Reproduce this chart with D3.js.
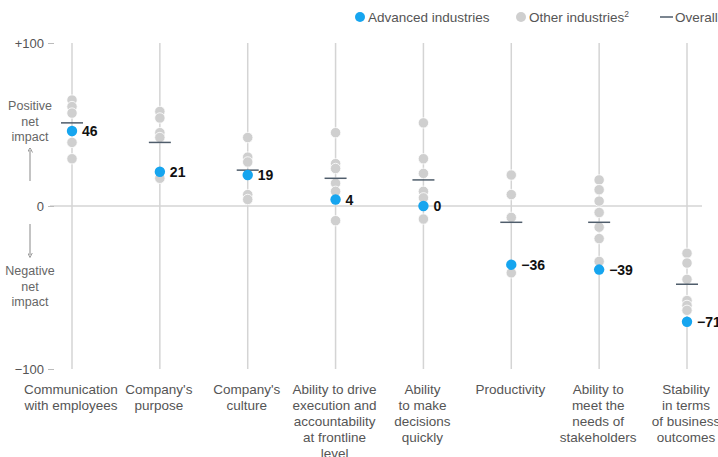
<!DOCTYPE html>
<html>
<head>
<meta charset="utf-8">
<script src="https://cdn.jsdelivr.net/npm/d3@7"></script>
<style>
  html, body { margin: 0; padding: 0; background: #fff; }
  svg { display: block; font-family: "Liberation Sans", Arial, sans-serif; }
</style>
</head>
<body>
<svg id="chart" width="718" height="457"></svg>
<script>
// Categories (multi-line labels)
const categories = [
  ["Communication", "with employees"],
  ["Company's", "purpose"],
  ["Company's", "culture"],
  ["Ability to drive", "execution and", "accountability", "at frontline", "level"],
  ["Ability", "to make", "decisions", "quickly"],
  ["Productivity"],
  ["Ability to", "meet the", "needs of", "stakeholders"],
  ["Stability", "in terms", "of business", "outcomes"]
];

// Net impact, advanced industries
const advanced = [46, 21, 19, 4, 0, -36, -39, -71];

// Overall net impact across all industries
const overall = [51, 39, 22, 17, 16, -10, -10, -48];

// Net impact for each of the other industries
const others = [
  [65, 61, 57, 39, 29],
  [58, 54, 45, 42, 17],
  [42, 30, 27, 7, 4],
  [45, 26, 23, 14, 9, -9],
  [51, 29, 20, 9, 5, -8],
  [19, 7, -7, -41],
  [16, 10, 3, -4, -13, -20, -34],
  [-29, -35, -45, -58, -61, -64]
];

const yTicks = [100, 0, -100];
const yTickLabels = ["+100", "0", "\u2212100"];

const BLUE = "#16a5ef";
const GRAY = "#cfcfcf";
const LINE = "#d4d4d4";
const OVERALL = "#4f5d6b";
const TEXT = "#555";
const FONT = "13.5px";

const svg = d3.select("#chart");

const idx = categories.map((d, i) => i);
const x = d3.scalePoint().domain(idx).range([72, 687]);
const y = d3.scaleLinear().domain([-100, 100]).range([369, 43]);

// Vertical guide per category
svg.append("g").selectAll("line").data(idx).join("line")
  .attr("x1", d => x(d)).attr("x2", d => x(d))
  .attr("y1", y(100)).attr("y2", y(-100))
  .attr("stroke", LINE).attr("stroke-width", 1.5);

// Zero baseline
svg.append("line")
  .attr("x1", 50).attr("x2", 702)
  .attr("y1", y(0)).attr("y2", y(0))
  .attr("stroke", LINE).attr("stroke-width", 1.5);

// Y axis ticks
const yAxis = d3.axisLeft(y).tickValues(yTicks)
  .tickFormat((d, i) => yTickLabels[i]).tickSize(6).tickPadding(4);
const ya = svg.append("g").attr("transform", "translate(54,0)").call(yAxis);
ya.select(".domain").remove();
ya.selectAll(".tick line").attr("stroke", "#bbb");
ya.selectAll(".tick text").attr("fill", TEXT)
  .style("font-family", "'Liberation Sans', Arial, sans-serif").style("font-size", "13px");

// Axis direction notes
const note = svg.append("g").attr("fill", "#666").style("font-size", "12.5px")
  .attr("text-anchor", "middle");
["Positive", "net", "impact"].forEach((t, i) =>
  note.append("text").attr("x", 30).attr("y", 110 + i * 15.5).text(t));
["Negative", "net", "impact"].forEach((t, i) =>
  note.append("text").attr("x", 30).attr("y", 275 + i * 15.5).text(t));

const defs = svg.append("defs");
defs.append("marker").attr("id", "ah").attr("viewBox", "0 0 6 6")
  .attr("refX", 3).attr("refY", 3).attr("markerWidth", 5).attr("markerHeight", 5)
  .attr("orient", "auto")
  .append("path").attr("d", "M0,0 L6,3 L0,6").attr("fill", "none").attr("stroke", "#888");
svg.append("line").attr("x1", 30).attr("x2", 30).attr("y1", 181).attr("y2", 150)
  .attr("stroke", "#888").attr("marker-end", "url(#ah)");
svg.append("line").attr("x1", 30).attr("x2", 30).attr("y1", 224).attr("y2", 255)
  .attr("stroke", "#888").attr("marker-end", "url(#ah)");

// Other industries dots
const otherPts = others.flatMap((vals, i) => vals.map(v => ({ i, v })));
svg.append("g").selectAll("circle").data(otherPts).join("circle")
  .attr("cx", d => x(d.i)).attr("cy", d => y(d.v)).attr("r", 5.2)
  .attr("fill", GRAY).attr("stroke", "#fff").attr("stroke-width", 0.8);

// Overall markers
svg.append("g").selectAll("line").data(overall).join("line")
  .attr("x1", (d, i) => x(i) - 11).attr("x2", (d, i) => x(i) + 11)
  .attr("y1", d => y(d)).attr("y2", d => y(d))
  .attr("stroke", OVERALL).attr("stroke-width", 1.5);

// Advanced industries dots and values
svg.append("g").selectAll("circle").data(advanced).join("circle")
  .attr("cx", (d, i) => x(i)).attr("cy", d => y(d)).attr("r", 5.2)
  .attr("fill", BLUE);
svg.append("g").selectAll("text").data(advanced).join("text")
  .attr("x", (d, i) => x(i) + 10).attr("y", d => y(d)).attr("dy", "0.36em")
  .attr("fill", "#111").style("font-size", "14px").style("font-weight", "bold")
  .text(d => d < 0 ? "\u2212" + Math.abs(d) : String(d));

// Category labels
const cat = svg.append("g").attr("fill", TEXT).style("font-size", FONT)
  .attr("text-anchor", "middle");
categories.forEach((lines, i) => {
  lines.forEach((t, j) => {
    cat.append("text").attr("x", x(i) - 1).attr("y", 394 + j * 16).text(t);
  });
});

// Legend
const lg = svg.append("g").style("font-size", FONT).attr("fill", TEXT);
lg.append("circle").attr("cx", 360).attr("cy", 17).attr("r", 5).attr("fill", BLUE);
lg.append("text").attr("x", 368).attr("y", 21.5).text("Advanced industries");
lg.append("circle").attr("cx", 521).attr("cy", 17).attr("r", 5).attr("fill", GRAY);
const ot = lg.append("text").attr("x", 529).attr("y", 21.5).text("Other industries");
ot.append("tspan").attr("dy", -5).style("font-size", "8.5px").text("2");
lg.append("line").attr("x1", 660).attr("x2", 673).attr("y1", 17).attr("y2", 17)
  .attr("stroke", OVERALL).attr("stroke-width", 1.5);
lg.append("text").attr("x", 675).attr("y", 21.5).text("Overall");
</script>
</body>
</html>
